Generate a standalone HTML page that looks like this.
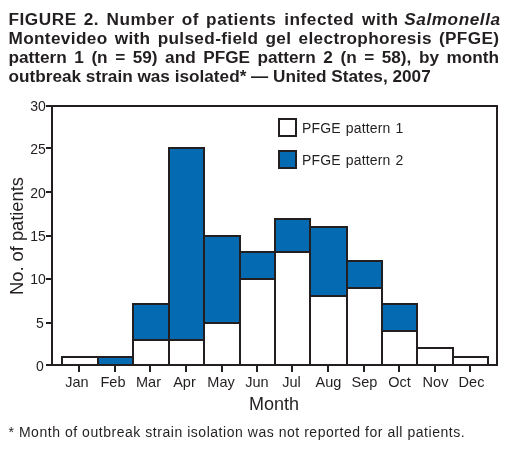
<!DOCTYPE html>
<html><head><meta charset="utf-8"><style>
html,body{margin:0;padding:0;background:#fff;width:510px;height:451px;overflow:hidden}
body{position:relative;will-change:transform;font-family:"Liberation Sans",sans-serif;color:#231f20}
.title{position:absolute;left:8.5px;top:9.5px;width:490.5px;font-weight:bold;font-size:17.2px;line-height:19px}
.title div{text-align:justify;text-align-last:justify;white-space:nowrap;height:19px}
.title div.last{text-align-last:left}
.r{position:relative}
svg{position:absolute;left:0;top:0}
.yl{position:absolute;left:0;width:45.8px;text-align:right;font-size:14px;line-height:16px}
.xl{position:absolute;top:373.8px;width:60px;text-align:center;font-size:14.5px;line-height:17px}
.month{position:absolute;left:230px;top:394px;width:88px;text-align:center;font-size:18px;line-height:20px}
.ylab{position:absolute;left:-42.7px;top:225.8px;width:120px;height:20px;font-size:18.3px;line-height:20px;text-align:center;white-space:nowrap;transform-origin:50% 50%;transform:rotate(-90deg)}
.leg{position:absolute;left:302px;font-size:14px;line-height:16px;letter-spacing:0.15px;word-spacing:1px;white-space:nowrap}
.foot{position:absolute;left:8.5px;top:423.6px;font-size:14px;line-height:16px;white-space:nowrap;letter-spacing:0.535px}
</style></head><body>
<div class="title">
<div style="letter-spacing:0.55px;margin-right:-0.55px">FIGURE 2. <span class="r" style="left:0.5px">Number</span> <span class="r" style="left:0.5px">of</span> <span class="r" style="left:0.7px">patients</span> <span class="r" style="left:1.5px">infected</span> <span class="r" style="left:2.2px">with</span> <i class="r" style="left:1px">Salmonella</i></div>
<div style="letter-spacing:0.35px;margin-right:-0.35px">Montevideo with pulsed-field gel electrophoresis (PFGE)</div>
<div>pattern 1 (n = 59) and PFGE pattern 2 (n = 58), by month</div>
<div class="last">outbreak strain was isolated* — United States, 2007</div>
</div>
<svg width="510" height="451" viewBox="0 0 510 451">
<rect x="62" y="357" width="36" height="8" fill="#fff" stroke="#231f20" stroke-width="2"/>
<rect x="98" y="357" width="35" height="8" fill="#046bb2" stroke="#231f20" stroke-width="2"/>
<rect x="133" y="340" width="36" height="25" fill="#fff" stroke="#231f20" stroke-width="2"/>
<rect x="133" y="304" width="36" height="36" fill="#046bb2" stroke="#231f20" stroke-width="2"/>
<rect x="169" y="340" width="35" height="25" fill="#fff" stroke="#231f20" stroke-width="2"/>
<rect x="169" y="148" width="35" height="192" fill="#046bb2" stroke="#231f20" stroke-width="2"/>
<rect x="204" y="323" width="36" height="42" fill="#fff" stroke="#231f20" stroke-width="2"/>
<rect x="204" y="236" width="36" height="87" fill="#046bb2" stroke="#231f20" stroke-width="2"/>
<rect x="240" y="279" width="35" height="86" fill="#fff" stroke="#231f20" stroke-width="2"/>
<rect x="240" y="252" width="35" height="27" fill="#046bb2" stroke="#231f20" stroke-width="2"/>
<rect x="275" y="252" width="35" height="113" fill="#fff" stroke="#231f20" stroke-width="2"/>
<rect x="275" y="219" width="35" height="33" fill="#046bb2" stroke="#231f20" stroke-width="2"/>
<rect x="310" y="296" width="37" height="69" fill="#fff" stroke="#231f20" stroke-width="2"/>
<rect x="310" y="227" width="37" height="69" fill="#046bb2" stroke="#231f20" stroke-width="2"/>
<rect x="347" y="288" width="35" height="77" fill="#fff" stroke="#231f20" stroke-width="2"/>
<rect x="347" y="261" width="35" height="27" fill="#046bb2" stroke="#231f20" stroke-width="2"/>
<rect x="382" y="331" width="35" height="34" fill="#fff" stroke="#231f20" stroke-width="2"/>
<rect x="382" y="304" width="35" height="27" fill="#046bb2" stroke="#231f20" stroke-width="2"/>
<rect x="417" y="348" width="36" height="17" fill="#fff" stroke="#231f20" stroke-width="2"/>
<rect x="453" y="357" width="35" height="8" fill="#fff" stroke="#231f20" stroke-width="2"/>
<path d="M52 106H497V365H52Z" fill="none" stroke="#231f20" stroke-width="2"/>
<path d="M46 365H52" stroke="#231f20" stroke-width="2"/>
<path d="M46 323H52" stroke="#231f20" stroke-width="2"/>
<path d="M46 279H52" stroke="#231f20" stroke-width="2"/>
<path d="M46 236H52" stroke="#231f20" stroke-width="2"/>
<path d="M46 192H52" stroke="#231f20" stroke-width="2"/>
<path d="M46 148H52" stroke="#231f20" stroke-width="2"/>
<path d="M46 106H52" stroke="#231f20" stroke-width="2"/>
<path d="M79 365V372" stroke="#231f20" stroke-width="2"/>
<path d="M115 365V372" stroke="#231f20" stroke-width="2"/>
<path d="M150 365V372" stroke="#231f20" stroke-width="2"/>
<path d="M186 365V372" stroke="#231f20" stroke-width="2"/>
<path d="M222 365V372" stroke="#231f20" stroke-width="2"/>
<path d="M257 365V372" stroke="#231f20" stroke-width="2"/>
<path d="M292 365V372" stroke="#231f20" stroke-width="2"/>
<path d="M328 365V372" stroke="#231f20" stroke-width="2"/>
<path d="M364 365V372" stroke="#231f20" stroke-width="2"/>
<path d="M399 365V372" stroke="#231f20" stroke-width="2"/>
<path d="M435 365V372" stroke="#231f20" stroke-width="2"/>
<path d="M470 365V372" stroke="#231f20" stroke-width="2"/>
<rect x="279" y="119" width="17" height="17" fill="#fff" stroke="#231f20" stroke-width="2"/>
<rect x="279" y="151" width="17" height="17" fill="#046bb2" stroke="#231f20" stroke-width="2"/>
</svg>
<div class="yl" style="top:357.50px;left:-2px">0</div>
<div class="yl" style="top:314.90px;left:-2px">5</div>
<div class="yl" style="top:270.50px;left:0px">10</div>
<div class="yl" style="top:227.50px;left:0px">15</div>
<div class="yl" style="top:184.50px;left:0px">20</div>
<div class="yl" style="top:140.50px;left:0px">25</div>
<div class="yl" style="top:98.10px;left:0px">30</div>
<div class="xl" style="left:47.00px">Jan</div>
<div class="xl" style="left:83.00px">Feb</div>
<div class="xl" style="left:118.50px">Mar</div>
<div class="xl" style="left:154.50px">Apr</div>
<div class="xl" style="left:191.00px">May</div>
<div class="xl" style="left:227.00px">Jun</div>
<div class="xl" style="left:261.50px">Jul</div>
<div class="xl" style="left:298.50px">Aug</div>
<div class="xl" style="left:334.50px">Sep</div>
<div class="xl" style="left:369.50px">Oct</div>
<div class="xl" style="left:405.50px">Nov</div>
<div class="xl" style="left:441.50px">Dec</div>
<div class="leg" style="top:120px">PFGE pattern 1</div>
<div class="leg" style="top:152px">PFGE pattern 2</div>
<div class="ylab">No. of patients</div>
<div class="month">Month</div>
<div class="foot">* Month of outbreak strain isolation was not reported for all patients.</div>
</body></html>
